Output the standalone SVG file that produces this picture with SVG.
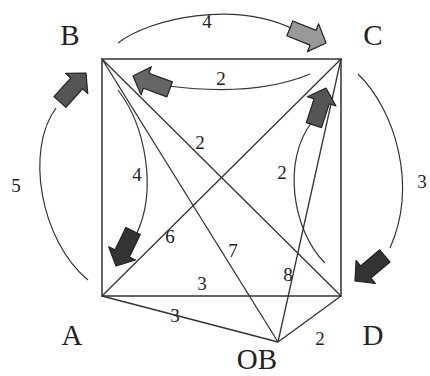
<svg xmlns="http://www.w3.org/2000/svg" width="430" height="376" viewBox="0 0 430 376">
<style>
.edge{fill:none;stroke:#333;stroke-width:1.3}
.sq{fill:none;stroke:#555;stroke-width:1.8}
.arc{fill:none;stroke:#333;stroke-width:1.2}
.lbl{font-family:"Liberation Serif","Times New Roman",serif;font-size:29px;fill:#222;text-anchor:middle}
.num{font-family:"Liberation Serif","Times New Roman",serif;font-size:19px;fill:#222;text-anchor:middle}
.ar{stroke:#222;stroke-width:1.2;stroke-linejoin:round}
</style>
<defs>
<path id="blk" d="M0,0 L-14,-15 L-14,-8 L-39,-8 L-39,8 L-14,8 L-14,15 Z"/>
</defs>
<rect width="430" height="376" fill="#fff"/>
<g id="connectors">
<rect class="sq" x="102" y="59" width="239" height="237"/>
<line class="edge" x1="102" y1="59" x2="341" y2="296"/>
<line class="edge" x1="341" y1="59" x2="102" y2="296"/>
<line class="edge" x1="102" y1="59" x2="278" y2="342"/>
<line class="edge" x1="341" y1="59" x2="278" y2="342"/>
<line class="edge" x1="102" y1="296" x2="278" y2="342"/>
<line class="edge" x1="341" y1="296" x2="278" y2="342"/>
<path class="arc" d="M118,43 C150,18 235,0 295,30"/>
<path class="arc" d="M310,74 Q255,97 168,86"/>
<path class="arc" d="M88,280 C40,240 25,150 56,108"/>
<path class="arc" d="M118,90 C145,125 158,190 136,235"/>
<path class="arc" d="M325,263 C292,230 282,160 312,122"/>
<path class="arc" d="M358,74 C395,110 418,185 390,248"/>
<use href="#blk" class="ar" fill="#555" transform="translate(86,73) rotate(-48)"/>
<use href="#blk" class="ar" fill="#999" transform="translate(326,43) rotate(22)"/>
<use href="#blk" class="ar" fill="#666" transform="translate(133,76) rotate(200)"/>
<use href="#blk" class="ar" fill="#555" transform="translate(326,88) rotate(-72)"/>
<use href="#blk" class="ar" fill="#333" transform="translate(116,266) rotate(116)"/>
<use href="#blk" class="ar" fill="#333" transform="translate(355,281) rotate(140)"/>
</g>
<g id="node-B"><text class="lbl" x="70" y="45">B</text></g>
<g id="node-C"><text class="lbl" x="373" y="45">C</text></g>
<g id="node-A"><text class="lbl" x="72" y="345">A</text></g>
<g id="node-D"><text class="lbl" x="373" y="345">D</text></g>
<g id="node-OB"><text class="lbl" x="257" y="369">OB</text></g>
<g id="labels">
<text class="num" x="207" y="28">4</text>
<text class="num" x="221" y="85">2</text>
<text class="num" x="16" y="192">5</text>
<text class="num" x="137" y="181">4</text>
<text class="num" x="200" y="149">2</text>
<text class="num" x="282" y="179">2</text>
<text class="num" x="422" y="188">3</text>
<text class="num" x="170" y="243">6</text>
<text class="num" x="233" y="257">7</text>
<text class="num" x="288" y="281">8</text>
<text class="num" x="202" y="290">3</text>
<text class="num" x="175" y="322">3</text>
<text class="num" x="320" y="345">2</text>
</g>
</svg>
